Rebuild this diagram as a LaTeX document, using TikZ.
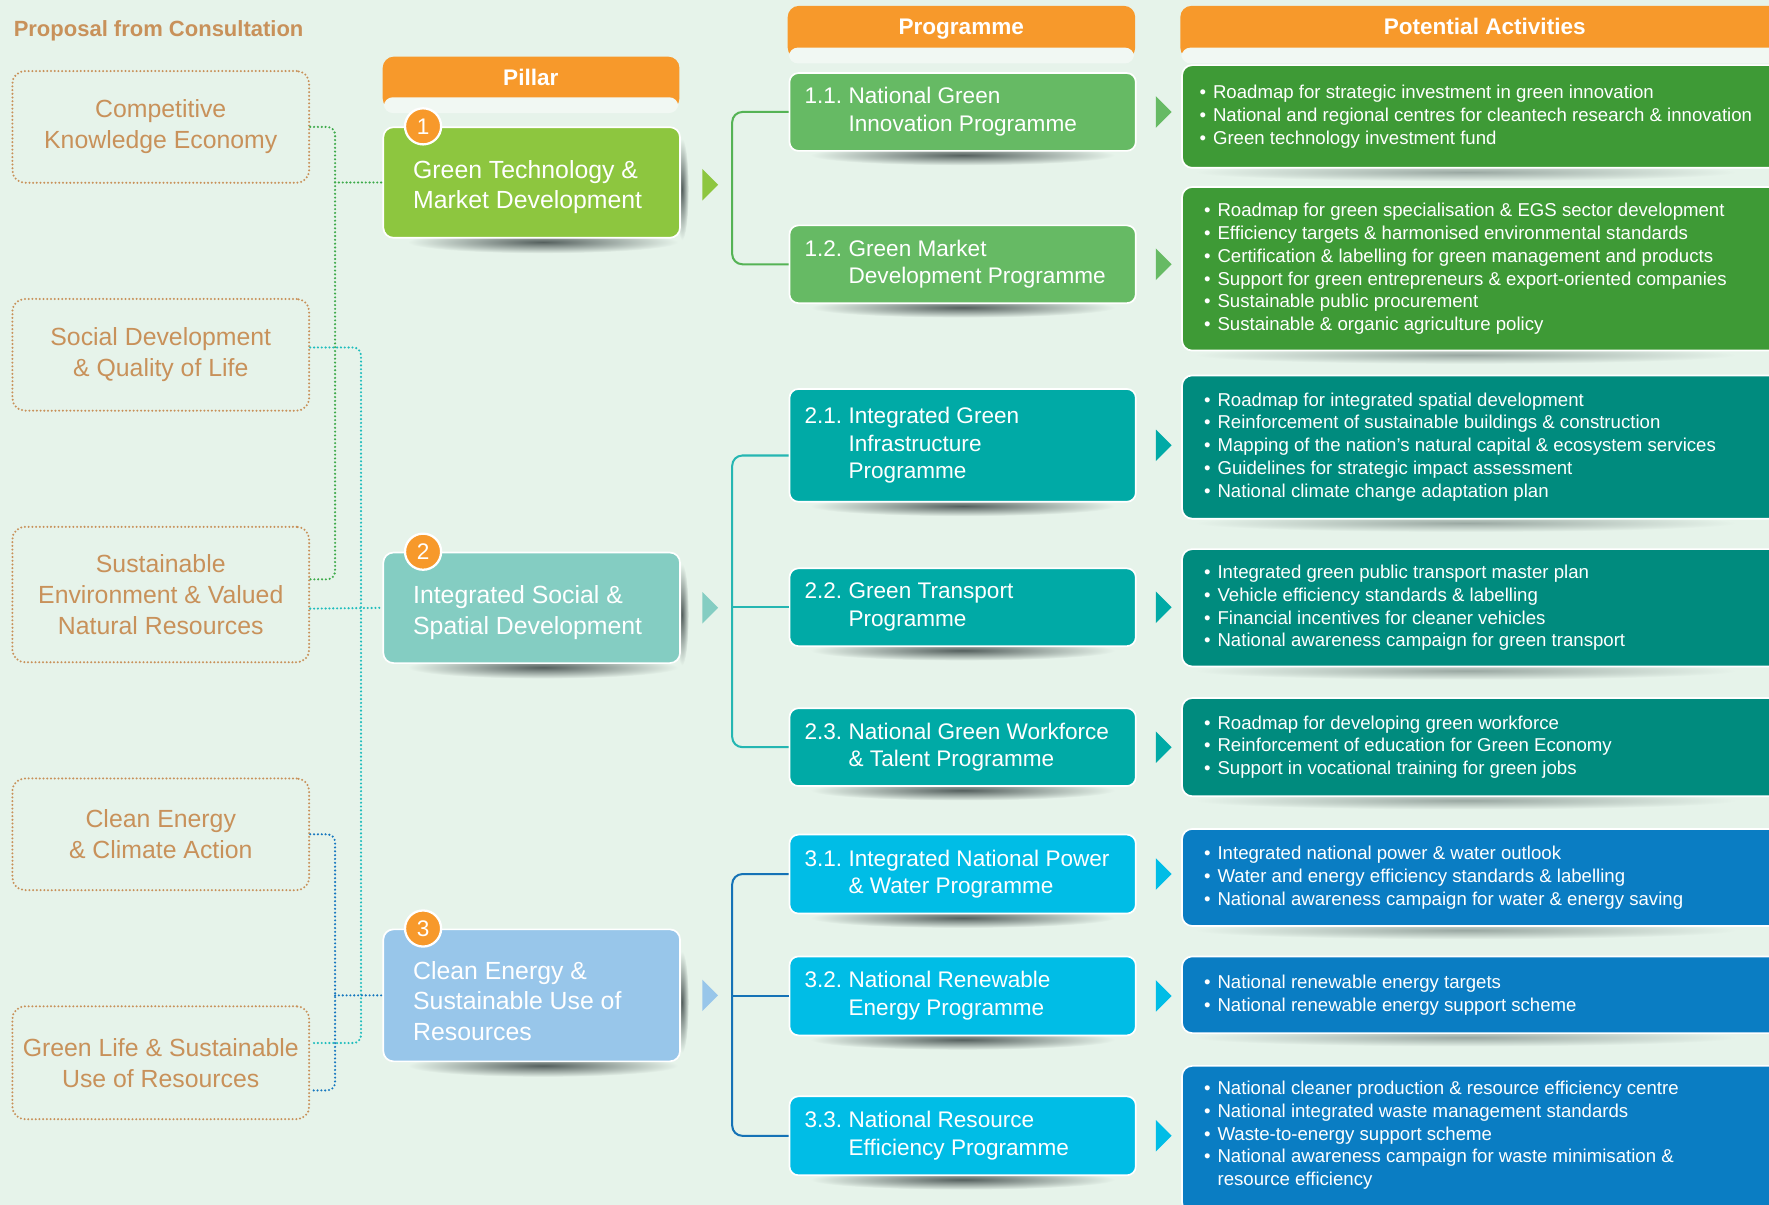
\documentclass[tikz,border=0pt]{standalone}
\usepackage{fontspec}
\setmainfont{Liberation Sans}
\usetikzlibrary{calc}
\pgfdeclarelayer{back}
\pgfdeclarelayer{shad}
\pgfsetlayers{back,shad,main}
\definecolor{bgc}{HTML}{E6F3EA}
\definecolor{tanc}{HTML}{C8915A}
\definecolor{orng}{HTML}{F7992B}
\definecolor{tabc}{HTML}{F1F8F3}
\definecolor{pone}{HTML}{8DC63F}
\definecolor{ptwo}{HTML}{84CDC2}
\definecolor{pthree}{HTML}{98C6EA}
\definecolor{gone}{HTML}{66BA64}
\definecolor{gtwo}{HTML}{00AAA6}
\definecolor{gthree}{HTML}{00BDE6}
\definecolor{aone}{HTML}{3E9A36}
\definecolor{atwo}{HTML}{008B7E}
\definecolor{athree}{HTML}{0A7DC3}
\definecolor{dgreen}{HTML}{3DAA4A}
\definecolor{dteal}{HTML}{20BDBD}
\definecolor{dblue}{HTML}{1677BF}
\definecolor{lone}{HTML}{55B355}
\definecolor{ltwo}{HTML}{25B6B2}
\definecolor{lthree}{HTML}{1572B6}
\definecolor{shadc}{HTML}{55605E}
\definecolor{shadl}{HTML}{9AA8A2}
\newcommand\pn[1]{\makebox[39pt][l]{#1}}
\newcommand\bl{\makebox[12pt][l]{•}}
\newcommand\tri[2]{\fill[#2] ($(#1)+(0,-14)$) -- ++(14,14) -- ++(-14,14) -- cycle;}
\begin{document}
\begin{tikzpicture}[x=1pt,y=-1pt,
  cons/.style={draw=tanc, line width=2pt, dash pattern=on 0pt off 3.3pt, line cap=round,
    rounded corners=11pt, minimum width=263pt, anchor=north west, align=center, text=tanc,
    font=\fontsize{22}{27.5}\selectfont, inner sep=0pt},
  pilbox/.style={draw=white, line width=1.5pt, rounded corners=9pt, minimum width=263pt, anchor=north west, inner sep=0pt},
  piltxt/.style={anchor=west, align=left, text=white, font=\fontsize{22}{27.3}\selectfont, inner sep=0pt},
  progbox/.style={draw=white, line width=1.5pt, rounded corners=8pt, minimum width=307pt, anchor=north west, inner sep=0pt},
  progtxt/.style={anchor=west, align=left, text=white, font=\fontsize{20}{24.5}\selectfont, inner sep=0pt},
  actbox/.style={draw=white, line width=1.5pt, rounded corners=9pt, minimum width=543pt, anchor=north west, inner sep=0pt},
  acttxt/.style={anchor=west, align=left, text=white, font=\fontsize{16.5}{20.3}\selectfont, inner sep=0pt},
  hdr/.style={fill=orng, rounded corners=10pt, minimum height=47pt, anchor=north west, inner sep=0pt},
  tabshape/.style={fill=tabc, rounded corners=8pt, minimum height=14pt, anchor=north west, inner sep=0pt},
  hdrtxt/.style={anchor=base, text=white, font=\bfseries\fontsize{20}{24}\selectfont, inner sep=0pt},
  badge/.style={circle, fill=orng, draw=white, line width=2pt, minimum size=32pt, inner sep=0pt, text=white, font=\fontsize{20}{20}\selectfont},
  dots/.style={line width=2.1pt, dash pattern=on 0pt off 3.4pt, line cap=round, rounded corners=7pt},
  trunk/.style={line width=1.8pt, rounded corners=9pt}
]
\useasboundingbox (0,0) rectangle (1568,1068);
\begin{pgfonlayer}{back}
\fill[bgc] (0,0) rectangle (1568,1068);
\end{pgfonlayer}

% title
\node[anchor=base west, text=tanc, font=\bfseries\fontsize{19.5}{24}\selectfont, inner sep=0pt] (title) at (12,32) {Proposal from Consultation};

% consultation boxes
\node[cons, minimum height=99pt] (cA) at (10,62) {Competitive\\Knowledge Economy};
\node[cons, minimum height=99pt] (cB) at (10,264) {Social Development\\\& Quality of Life};
\node[cons, minimum height=120pt] (cC) at (10,466) {Sustainable\\Environment \& Valued\\Natural Resources};
\node[cons, minimum height=99pt] (cD) at (10,689) {Clean Energy\\\& Climate Action};
\node[cons, minimum height=100pt] (cE) at (10,891) {Green Life \& Sustainable\\Use of Resources};

% headers
\node[hdr, minimum width=263pt] (hpil) at (339,50) {};
\node[tabshape, minimum width=261pt] (tpil) at (340,86) {};
\node[hdrtxt] (hpilt) at (470.5,76) {Pillar};
\node[hdr, minimum width=308pt] (hprog) at (698,5) {};
\node[tabshape, minimum width=306pt] (tprog) at (699,42) {};
\node[hdrtxt] (hprogt) at (852,31) {Programme};
\node[hdr, minimum width=560pt] (hact) at (1046,5) {};
\node[tabshape, minimum width=558pt] (tact) at (1047,42) {};
\node[hdrtxt] (hactt) at (1316,31) {Potential Activities};

% pillar boxes
\node[pilbox, fill=pone, minimum height=98pt] (pil1) at (339,112) {};
\node[piltxt, yshift=-4pt] (pil1t) at ([xshift=27pt]pil1.west) {Green Technology \&\\Market Development};
\node[badge] (b1) at ($(pil1.north west)+(36,0)$) {1};
\node[pilbox, fill=ptwo, minimum height=98pt] (pil2) at (339,489) {};
\node[piltxt, yshift=-4pt] (pil2t) at ([xshift=27pt]pil2.west) {Integrated Social \&\\Spatial Development};
\node[badge] (b2) at ($(pil2.north west)+(36,0)$) {2};
\node[pilbox, fill=pthree, minimum height=117pt] (pil3) at (339,823) {};
\node[piltxt, yshift=-5pt] (pil3t) at ([xshift=27pt]pil3.west) {Clean Energy \&\\Sustainable Use of\\Resources};
\node[badge] (b3) at ($(pil3.north west)+(36,0)$) {3};

% programme boxes
\node[progbox, fill=gone, minimum height=69pt] (p11) at (699,64) {};
\node[progtxt] (p11t) at ([xshift=14pt]p11.west) {\pn{1.1.}National Green\\\pn{}Innovation Programme};
\node[progbox, fill=gone, minimum height=69pt] (p12) at (699,199) {};
\node[progtxt] (p12t) at ([xshift=14pt]p12.west) {\pn{1.2.}Green Market\\\pn{}Development Programme};
\node[progbox, fill=gtwo, minimum height=100pt] (p21) at (699,344) {};
\node[progtxt] (p21t) at ([xshift=14pt]p21.west) {\pn{2.1.}Integrated Green\\\pn{}Infrastructure\\\pn{}Programme};
\node[progbox, fill=gtwo, minimum height=69pt] (p22) at (699,503) {};
\node[progtxt] (p22t) at ([xshift=14pt]p22.west) {\pn{2.2.}Green Transport\\\pn{}Programme};
\node[progbox, fill=gtwo, minimum height=69pt] (p23) at (699,627) {};
\node[progtxt] (p23t) at ([xshift=14pt]p23.west) {\pn{2.3.}National Green Workforce\\\pn{}\& Talent Programme};
\node[progbox, fill=gthree, minimum height=70pt] (p31) at (699,739) {};
\node[progtxt] (p31t) at ([xshift=14pt]p31.west) {\pn{3.1.}Integrated National Power\\\pn{}\& Water Programme};
\node[progbox, fill=gthree, minimum height=70pt] (p32) at (699,847) {};
\node[progtxt] (p32t) at ([xshift=14pt]p32.west) {\pn{3.2.}National Renewable\\\pn{}Energy Programme};
\node[progbox, fill=gthree, minimum height=70pt] (p33) at (699,971) {};
\node[progtxt] (p33t) at ([xshift=14pt]p33.west) {\pn{3.3.}National Resource\\\pn{}Efficiency Programme};

% activity boxes
\node[actbox, fill=aone, minimum height=91pt] (a11) at (1047,57) {};
\node[acttxt] (a11t) at ([xshift=16pt]a11.west) {\bl Roadmap for strategic investment in green innovation\\\bl National and regional centres for cleantech research \& innovation\\\bl Green technology investment fund};
\node[actbox, fill=aone, minimum height=145pt] (a12) at (1047,165) {};
\node[acttxt] (a12t) at ([xshift=20pt]a12.west) {\bl Roadmap for green specialisation \& EGS sector development\\\bl Efficiency targets \& harmonised environmental standards\\\bl Certification \& labelling for green management and products\\\bl Support for green entrepreneurs \& export-oriented companies\\\bl Sustainable public procurement\\\bl Sustainable \& organic agriculture policy};
\node[actbox, fill=atwo, minimum height=127pt] (a21) at (1047,332) {};
\node[acttxt] (a21t) at ([xshift=20pt]a21.west) {\bl Roadmap for integrated spatial development\\\bl Reinforcement of sustainable buildings \& construction\\\bl Mapping of the nation’s natural capital \& ecosystem services\\\bl Guidelines for strategic impact assessment\\\bl National climate change adaptation plan};
\node[actbox, fill=atwo, minimum height=104pt] (a22) at (1047,486) {};
\node[acttxt] (a22t) at ([xshift=20pt]a22.west) {\bl Integrated green public transport master plan\\\bl Vehicle efficiency standards \& labelling\\\bl Financial incentives for cleaner vehicles\\\bl National awareness campaign for green transport};
\node[actbox, fill=atwo, minimum height=87pt] (a23) at (1047,618) {};
\node[acttxt] (a23t) at ([xshift=20pt]a23.west) {\bl Roadmap for developing green workforce\\\bl Reinforcement of education for Green Economy\\\bl Support in vocational training for green jobs};
\node[actbox, fill=athree, minimum height=86pt] (a31) at (1047,734) {};
\node[acttxt] (a31t) at ([xshift=20pt]a31.west) {\bl Integrated national power \& water outlook\\\bl Water and energy efficiency standards \& labelling\\\bl National awareness campaign for water \& energy saving};
\node[actbox, fill=athree, minimum height=68pt] (a32) at (1047,847) {};
\node[acttxt] (a32t) at ([xshift=20pt]a32.west) {\bl National renewable energy targets\\\bl National renewable energy support scheme};
\node[actbox, fill=athree, minimum height=130pt] (a33) at (1047,944) {};
\node[acttxt, yshift=3.5pt] (a33t) at ([xshift=20pt]a33.west) {\bl National cleaner production \& resource efficiency centre\\\bl National integrated waste management standards\\\bl Waste-to-energy support scheme\\\bl National awareness campaign for waste minimisation \&\\\hspace*{12pt}resource efficiency};

% shadows
\begin{pgfonlayer}{shad}
\foreach \n in {pil1,pil2,pil3} {
  \shade[inner color=shadc, outer color=bgc] ($(\n.south)+(10,3)$) ellipse (120pt and 10pt);
  \shade[inner color=shadc, outer color=bgc] ($(\n.east)+(1,6)$) ellipse (6pt and 45pt);
}
\foreach \n in {p11,p12,p21,p22,p23,p31,p32,p33} {
  \shade[inner color=shadc, outer color=bgc] ($(\n.south)+(0,3)$) ellipse (135pt and 9pt);
}
\foreach \n in {a11,a12,a21,a22,a23,a31,a32,a33} {
  \shade[inner color=shadl, outer color=bgc] ($(\n.south)+(-20,3)$) ellipse (240pt and 8pt);
}
\end{pgfonlayer}

% coordinates for trunks
\coordinate (gx) at (297,0);
\coordinate (tx) at (320,0);
\coordinate (sx) at (649,0);
\coordinate (cAg) at (cA.east);
\coordinate (cBt) at ([yshift=6.5pt]cB.east);
\coordinate (cCg) at ([yshift=13.5pt]cC.east);
\coordinate (cCt) at ([yshift=-12.5pt]cC.east);
\coordinate (cDb) at (cD.east);
\coordinate (cEt) at ([yshift=17.5pt]cE.east);
\coordinate (cEb) at ([yshift=-24.5pt]cE.east);

% dotted connectors
\draw[dots, draw=dgreen] (cAg) -| (cCg -| gx) -- (cCg);
\draw[dots, draw=dgreen] (pil1.west -| gx) -- (pil1.west);
\draw[dots, draw=dteal] (cBt) -| (cEt -| tx) -- (cEt);
\draw[dots, draw=dteal] (cCt) -- (pil2.west);
\draw[dots, draw=dblue] (cDb) -| (cEb -| gx) -- (cEb);
\draw[dots, draw=dblue] (pil3.west -| gx) -- (pil3.west);

% solid trunks
\draw[trunk, draw=lone] (p11.west) -- (p11.west -| sx) -- (p12.west -| sx) -- (p12.west);
\coordinate (p21w) at ([yshift=-9pt]p21.west);
\draw[trunk, draw=ltwo] (p21w) -- (p21w -| sx) -- (p23.west -| sx) -- (p23.west);
\draw[trunk, draw=ltwo] (p22.west -| sx) -- (p22.west);
\draw[trunk, draw=lthree] (p31.west) -- (p31.west -| sx) -- (p33.west -| sx) -- (p33.west);
\draw[trunk, draw=lthree] (p32.west -| sx) -- (p32.west);

% arrows
\coordinate (ar1) at ($(pil1.east)+(19,2)$);
\coordinate (ar2) at ($(pil2.east)+(19,0)$);
\coordinate (ar3) at ($(pil3.east)+(19,0)$);
\tri{ar1}{pone}
\tri{ar2}{ptwo}
\tri{ar3}{pthree}
\foreach \n/\c in {p11/gone,p12/gone,p21/gtwo,p22/gtwo,p23/gtwo,p31/gthree,p32/gthree,p33/gthree} {
  \coordinate (q) at ($(\n.east)+(17,0)$);
  \tri{q}{\c}
}
\end{tikzpicture}
\end{document}
